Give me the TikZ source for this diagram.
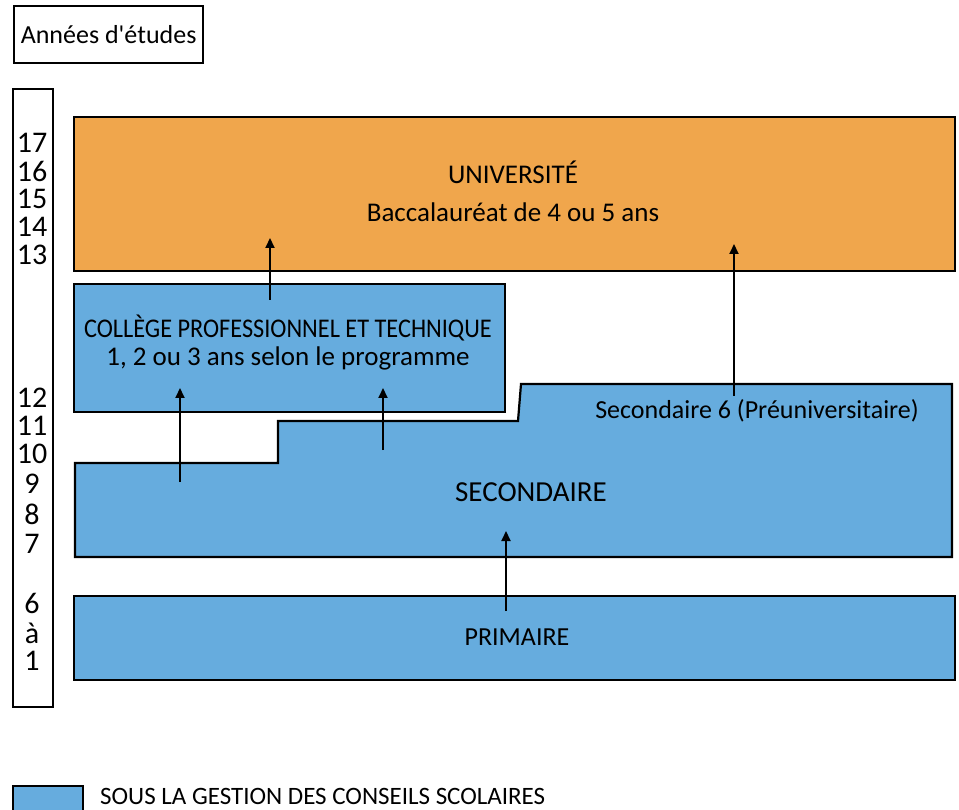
\documentclass[tikz,border=0pt]{standalone}
\usepackage{fontspec}
\setmainfont{Carlito}[Ligatures=TeXOff]
\usetikzlibrary{arrows.meta}
\definecolor{ublue}{RGB}{102,172,222}
\definecolor{uorange}{RGB}{240,166,76}
\begin{document}
\begin{tikzpicture}[x=1pt,y=-1pt,
  box/.style={draw=black,line width=2.2pt},
  arr/.style={-{Triangle[length=10pt,width=9pt]},line width=2pt},
  lbl/.style={font=\fontsize{27}{30}\selectfont,inner sep=0pt},
  yr/.style={font=\fontsize{30}{32}\selectfont,inner sep=0pt}]
\useasboundingbox (0,0) rectangle (959,810);
% title
\node[box,minimum width=189,minimum height=57,anchor=north west] (title) at (13,5) {};
\node[lbl,font=\fontsize{26}{28}\selectfont] (titletxt) at (title.center) {Années d'études};
% year column
\node[box,minimum width=40,minimum height=618,anchor=north west] (years) at (12,88) {};
\foreach \t/\yy [count=\i] in {17/143,16/171,15/199,14/227,13/255,12/398,11/426,10/454,9/484,8/514,7/544,6/603,à/633,1/661}
  \node[yr] (yr\i) at (32,\yy) {\t};
% university
\node[box,fill=uorange,minimum width=881,minimum height=154,anchor=north west] (univ) at (73,116) {};
\node[lbl] (univ1) at (513,172) {UNIVERSITÉ};
\node[lbl] (univ2) at (513,212) {Baccalauréat de 4 ou 5 ans};
% college
\node[box,fill=ublue,minimum width=431,minimum height=128,anchor=north west] (coll) at (73,283) {};
\node[lbl,font=\fontsize{27}{30}\selectfont] (coll1) at (288,328) {\scalebox{0.9}[1]{COLLÈGE PROFESSIONNEL ET TECHNIQUE}};
\node[lbl] (coll2) at (288,358) {1, 2 ou 3 ans selon le programme};
% secondary
\draw[box,fill=ublue] (75,557) -- (75,463) -- (278,463) -- (278,421) -- (518,421) -- (521,384) -- (952,384) -- (952,557) -- cycle;
\node[lbl,font=\fontsize{26}{28}\selectfont] (sec6) at (757,411) {Secondaire 6 (Préuniversitaire)};
\node[lbl,font=\fontsize{29}{30}\selectfont] (sec) at (531,492) {SECONDAIRE};
% primary
\node[box,fill=ublue,minimum width=881,minimum height=84,anchor=north west] (prim) at (73,595) {};
\node[lbl,font=\fontsize{26}{28}\selectfont] (primtxt) at (517,637) {PRIMAIRE};
% arrows
\coordinate (a1s) at (270,300); \coordinate (a1e) at (270,238);
\coordinate (a2s) at (180,482); \coordinate (a2e) at (180,388);
\coordinate (a3s) at (383,450); \coordinate (a3e) at (383,388);
\coordinate (a4s) at (734,396); \coordinate (a4e) at (734,244);
\coordinate (a5s) at (506,611); \coordinate (a5e) at (506,531);
\draw[arr] (a1s) -- (a1e);
\draw[arr] (a2s) -- (a2e);
\draw[arr] (a3s) -- (a3e);
\draw[arr] (a4s) -- (a4e);
\draw[arr] (a5s) -- (a5e);
% legend
\node[box,fill=ublue,minimum width=70,minimum height=40,anchor=north west] (leg) at (12,785) {};
\node[lbl,font=\fontsize{25}{28}\selectfont,anchor=base west] (legtxt) at (100,804) {SOUS LA GESTION DES CONSEILS SCOLAIRES};
\end{tikzpicture}
\end{document}
